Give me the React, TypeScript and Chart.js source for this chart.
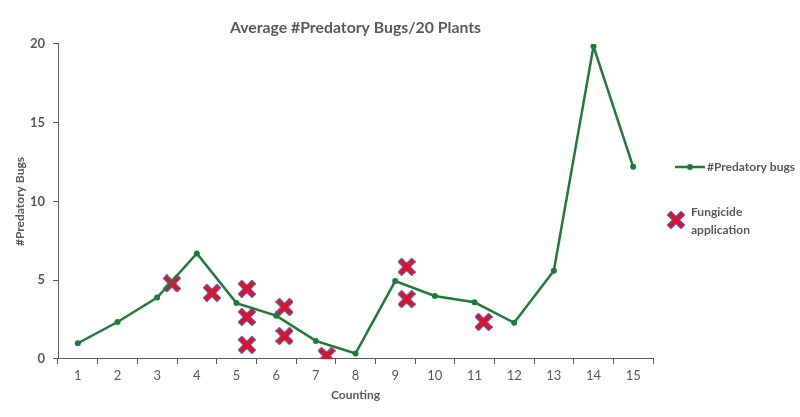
import { Chart, registerables } from "chart.js";
import React, { useEffect, useRef } from "react";

Chart.register(...registerables);

const countings = ["1", "2", "3", "4", "5", "6", "7", "8", "9", "10", "11", "12", "13", "14", "15"];
const predatoryBugs = [1.0, 2.35, 3.9, 6.7, 3.55, 2.75, 1.15, 0.35, 4.95, 4.0, 3.6, 2.3, 5.6, 19.85, 12.2];

// fungicide applications, x is the counting position (between countings)
const fungicideX = [3.37, 4.38, 5.26, 5.26, 5.26, 6.21, 6.21, 7.27, 9.29, 9.29, 11.23];
const fungicideY = [4.8, 4.2, 4.45, 2.67, 0.9, 3.3, 1.46, 0.2, 5.85, 3.8, 2.35];

const yTicks = [0, 5, 10, 15, 20];

const GREEN = "#1f7a3a";
const GREY = "#595959";
const FONT = "Lato, 'Open Sans', sans-serif";

function makeCross(size: number) {
  const c = document.createElement("canvas");
  c.width = size;
  c.height = size;
  const ctx = c.getContext("2d")!;
  const p = size * 0.22;
  const draw = (w: number, color: string) => {
    ctx.strokeStyle = color;
    ctx.lineWidth = w;
    ctx.lineCap = "square";
    ctx.beginPath();
    ctx.moveTo(p, p);
    ctx.lineTo(size - p, size - p);
    ctx.moveTo(size - p, p);
    ctx.lineTo(p, size - p);
    ctx.stroke();
  };
  draw(size * 0.34, "#6a4a86");
  draw(size * 0.2, "#e3102b");
  return c;
}

export default function App() {
  const chartRef = useRef<HTMLCanvasElement | null>(null);
  const chartInstance = useRef<Chart | null>(null);

  useEffect(() => {
    document.body.style.margin = "0";
    if (!chartRef.current) return;
    const cross = makeCross(18);

    const legendPlugin = {
      id: "sideLegend",
      afterDraw(chart: Chart) {
        const { ctx, chartArea } = chart;
        const x = chartArea.right + 22;
        ctx.save();
        ctx.strokeStyle = GREEN;
        ctx.fillStyle = GREEN;
        ctx.lineWidth = 2.5;
        ctx.beginPath();
        ctx.moveTo(x, 167);
        ctx.lineTo(x + 30, 167);
        ctx.stroke();
        ctx.beginPath();
        ctx.arc(x + 15, 167, 3, 0, Math.PI * 2);
        ctx.fill();
        ctx.fillStyle = GREY;
        ctx.font = `bold 12px ${FONT}`;
        ctx.textBaseline = "middle";
        ctx.fillText("#Predatory bugs", x + 32, 167);
        ctx.drawImage(cross, x - 8, 211);
        ctx.fillText("Fungicide", x + 16, 212);
        ctx.fillText("application", x + 16, 230);
        ctx.restore();
      },
    };

    chartInstance.current = new Chart(chartRef.current, {
      type: "line",
      data: {
        labels: countings,
        datasets: [
          {
            label: "#Predatory bugs",
            data: predatoryBugs,
            borderColor: GREEN,
            backgroundColor: GREEN,
            borderWidth: 2.5,
            pointRadius: 3,
            pointBackgroundColor: GREEN,
            pointBorderWidth: 0,
            tension: 0,
            xAxisID: "x",
          },
          {
            type: "scatter",
            label: "Fungicide application",
            data: fungicideX.map((x, i) => ({ x, y: fungicideY[i] })),
            pointStyle: cross,
            showLine: false,
            xAxisID: "x2",
          } as any,
        ],
      },
      options: {
        animation: false,
        responsive: false,
        layout: { padding: { top: 10, right: 147, bottom: 11, left: 13 } },
        plugins: {
          legend: { display: false },
          tooltip: { enabled: false },
          title: {
            display: true,
            text: "Average #Predatory Bugs/20 Plants",
            color: GREY,
            font: { family: FONT, size: 15.8, weight: "bold" },
            fullSize: false,
            padding: { top: 8, bottom: 7 },
          },
        },
        scales: {
          x: {
            type: "category",
            offset: true,
            grid: { drawOnChartArea: false, offset: true, tickLength: 5, color: GREY },
            border: { color: GREY, width: 1 },
            ticks: { color: GREY, font: { family: FONT, size: 13 }, padding: 4 },
            title: {
              display: true,
              text: "Counting",
              color: GREY,
              font: { family: FONT, size: 12, weight: "bold" },
              padding: { top: 0 },
            },
          },
          x2: {
            type: "linear",
            display: false,
            min: 0.5,
            max: 15.5,
          },
          y: {
            min: 0,
            max: 20,
            afterBuildTicks: (axis: any) => {
              axis.ticks = yTicks.map((v) => ({ value: v }));
            },
            afterFit: (axis: any) => {
              axis.width = 45;
            },
            grid: { drawOnChartArea: false, tickLength: 5, color: GREY },
            border: { color: GREY, width: 1 },
            ticks: { color: GREY, font: { family: FONT, size: 13, weight: "bold" }, padding: 8 },
            title: {
              display: true,
              text: "#Predatory Bugs",
              color: GREY,
              font: { family: FONT, size: 12, weight: "bold" },
              padding: { top: 0, bottom: 0 },
            },
          },
        },
      },
      plugins: [legendPlugin],
    });

    return () => {
      if (chartInstance.current) chartInstance.current.destroy();
    };
  }, []);

  return (
    <div style={{ position: "relative", width: 800, height: 417 }}>
      <canvas ref={chartRef} width={800} height={417} style={{ width: 800, height: 417 }} />
    </div>
  );
}
